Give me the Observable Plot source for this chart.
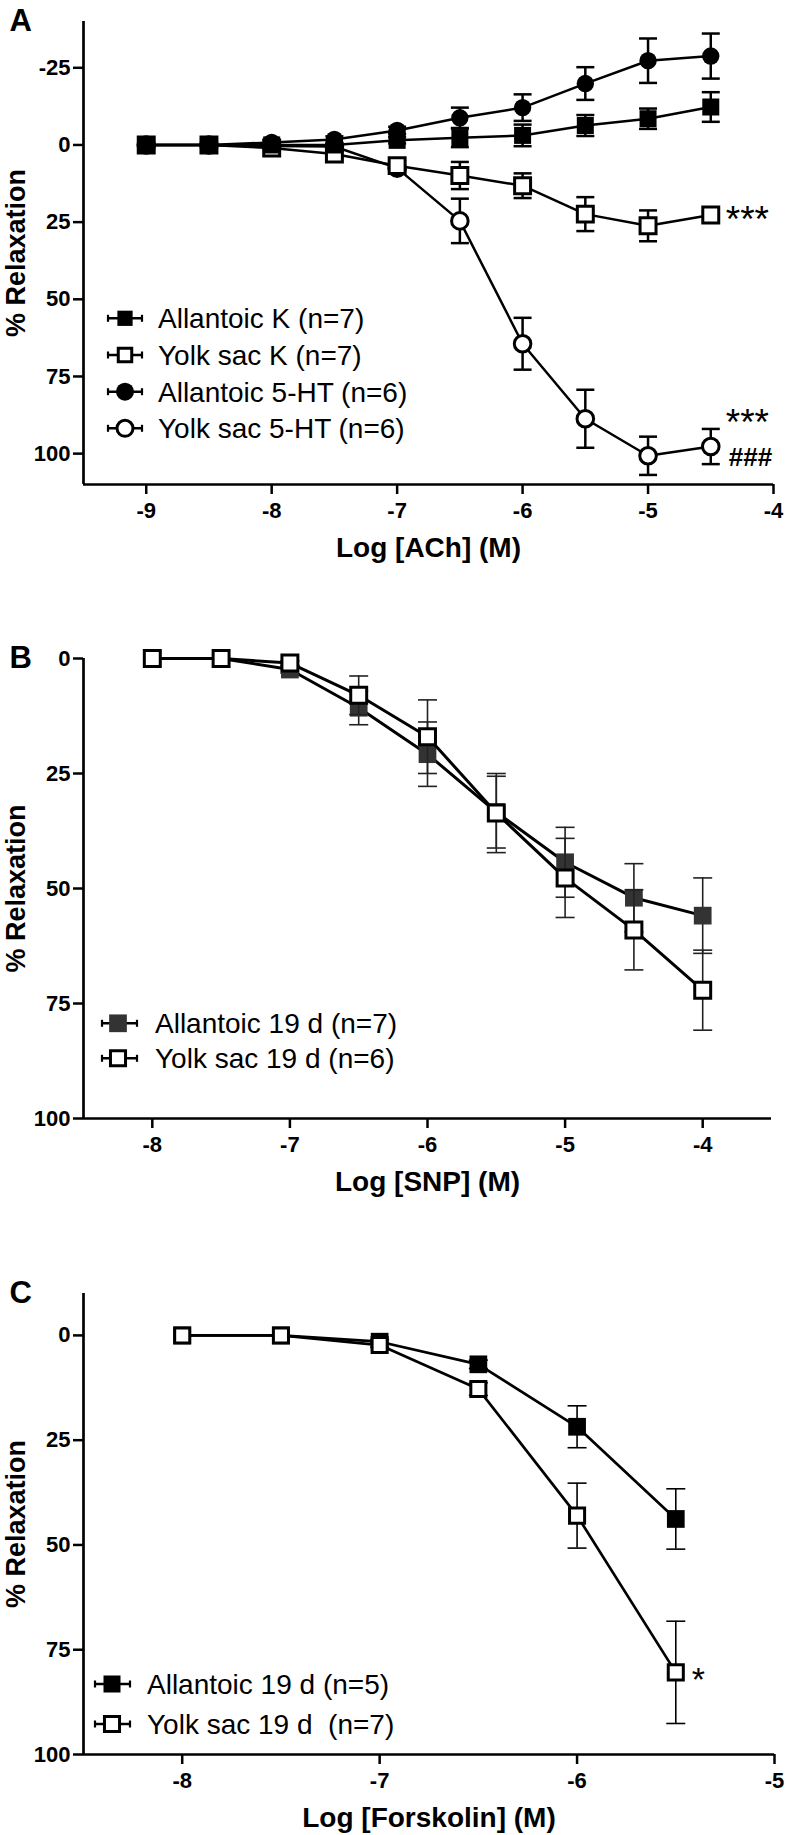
<!DOCTYPE html>
<html><head><meta charset="utf-8">
<script src="https://cdn.jsdelivr.net/npm/d3@7"></script>
<script src="https://cdn.jsdelivr.net/npm/@observablehq/plot@0.6"></script>
<style>
body{margin:0;background:#fff;}
#chart{width:786px;}
#chart svg{display:block;}
</style></head><body><div id="chart"></div>
<script>
// ---------- Panel A : ACh ----------
const aX = [-9,-8.5,-8,-7.5,-7,-6.5,-6,-5.5,-5,-4.5];
const aAllantoicK      = [0,0,0,0,-1.5,-2.3,-3.1,-6.3,-8.5,-12.3];
const aAllantoicKErr   = [0,0,0,0,1,3,3.5,3.4,3.3,4.8];
const aYolkK           = [0,0,1,2.9,6.7,9.9,13.2,22.4,26.2,22.7];
const aYolkKErr        = [0,0,0,1,1.5,4.4,4,5.5,5,1];
const aAllantoic5HT    = [0,0,-0.8,-1.8,-4.7,-8.8,-12.1,-19.9,-27.3,-28.8];
const aAllantoic5HTErr = [0,0,0,1,1.2,3.3,4.3,5.3,7.2,7.3];
const aYolk5HT         = [0,0,0.3,0.5,7.5,24.6,64.4,88.7,100.7,97.7];
const aYolk5HTErr      = [0,0,0,0,1,7.2,8.4,9.4,6.2,5.7];
const aLabels = ["Allantoic K (n=7)","Yolk sac K (n=7)","Allantoic 5-HT (n=6)","Yolk sac 5-HT (n=6)"];
const aXTicks = [-9,-8,-7,-6,-5,-4];
const aYTicks = [-25,0,25,50,75,100];

// ---------- Panel B : SNP ----------
const bX = [-8,-7.5,-7,-6.5,-6,-5.5,-5,-4.5,-4];
const bAllantoic    = [0,0,2.4,10.7,20.8,33.4,44.3,52,55.9];
const bAllantoicErr = [0,0,0.8,3.7,7,7.8,7.6,7.4,8.2];
const bYolk         = [0,0,1,8,17,33.6,47.7,59,72.1];
const bYolkErr      = [0,0,0.5,4.2,8,8.6,8.6,8.7,8.7];
const bLabels = ["Allantoic 19 d (n=7)","Yolk sac 19 d (n=6)"];
const bXTicks = [-8,-7,-6,-5,-4];
const bYTicks = [0,25,50,75,100];

// ---------- Panel C : Forskolin ----------
const cX = [-8,-7.5,-7,-6.5,-6,-5.5];
const cAllantoic    = [0,0,1.5,6.9,21.8,43.8];
const cAllantoicErr = [0,0,0.5,1,5,7.2];
const cYolk         = [0,0,2.3,12.8,43,80.4];
const cYolkErr      = [0,0,0.5,1.5,7.75,12.2];
const cLabels = ["Allantoic 19 d (n=5)","Yolk sac 19 d  (n=7)"];
const cXTicks = [-8,-7,-6,-5];
const cYTicks = [0,25,50,75,100];

const FONT = "'Liberation Sans', Arial, Helvetica, sans-serif";
const capSymbol = {draw(ctx, size){ const w = Math.sqrt(size/Math.PI); ctx.moveTo(-w,0); ctx.lineTo(w,0); }};

function rowsOf(xs, ys, es){ return xs.map((x,i)=>({x, y: ys[i], e: es[i]})); }

function seriesMarks(s){
  const rows = rowsOf(s.x, s.y, s.err);
  const eb = rows.filter(d => d.e > 0);
  const caps = eb.flatMap(d => [{x:d.x, y:d.y-d.e}, {x:d.x, y:d.y+d.e}]);
  return [
    Plot.ruleX(eb, {x:"x", y1:d=>d.y-d.e, y2:d=>d.y+d.e, stroke:s.ebColor, strokeWidth:s.ebWidth}),
    Plot.dot(caps, {x:"x", y:"y", symbol:capSymbol, r:s.capR, stroke:s.ebColor, strokeWidth:s.ebWidth, fill:"none"}),
    Plot.line(rows, {x:"x", y:"y", stroke:"black", strokeWidth:s.lineWidth}),
    Plot.dot(rows, {x:"x", y:"y", symbol:s.symbol, r:s.r, fill:s.fill, stroke:s.stroke, strokeWidth:s.strokeWidth})
  ];
}

function panel(cfg){
  const marks = [
    ...cfg.series.flatMap(seriesMarks),
    Plot.ruleX([cfg.xDomain[0]], {stroke:"black", strokeWidth:2.7}),
    Plot.ruleY([cfg.yDomain[1]], {stroke:"black", strokeWidth:2.7}),
    Plot.axisX({ticks:cfg.xTicks, tickFormat:d=>String(d), tickSize:10, tickPadding:8, fontSize:22, fontWeight:"bold", strokeWidth:2.5, label:null}),
    Plot.axisY({ticks:cfg.yTicks, tickFormat:d=>String(d), tickSize:10, tickPadding:3, fontSize:22, fontWeight:"bold", strokeWidth:2.5, label:null}),
    Plot.text([cfg.letter], {text:d=>d, frameAnchor:"top-left", dx:-74, dy:0, textAnchor:"start", lineAnchor:"middle", fontSize:31, fontWeight:"bold"}),
    Plot.text(["% Relaxation"], {text:d=>d, frameAnchor:"left", rotate:-90, dx:-67, textAnchor:"middle", lineAnchor:"middle", fontSize:27, fontWeight:"bold"}),
    Plot.text([cfg.xLabel], {text:d=>d, frameAnchor:"bottom", dy:64, textAnchor:"middle", lineAnchor:"middle", fontSize:28, fontWeight:"bold"}),
    ...cfg.notes.map(n => Plot.text([n], {x:"x", y:"y", text:"t", dx:n.dx, dy:n.dy, textAnchor:"start", lineAnchor:"middle", fontSize:n.fs, fontWeight:n.fw}))
  ];
  const svg = Plot.plot({
    width:786, height:cfg.height,
    marginTop:cfg.mt, marginBottom:cfg.mb, marginLeft:83, marginRight:cfg.mr,
    x:{domain:cfg.xDomain},
    y:{domain:cfg.yDomain, reverse:true},
    style:{fontFamily:FONT, background:"white", color:"black", overflow:"visible"},
    marks
  });
  // legend (inside the frame)
  const g = d3.select(svg).append("g").attr("aria-label","legend");
  const L = cfg.legend;
  cfg.series.forEach((s,i) => {
    const y = L.ys[i];
    const row = g.append("g");
    row.append("line").attr("x1",L.x0).attr("x2",L.x1).attr("y1",y).attr("y2",y).attr("stroke","black").attr("stroke-width",2.6);
    [L.x0, L.x1].forEach(x => row.append("line").attr("x1",x).attr("x2",x).attr("y1",y-3.5).attr("y2",y+3.5).attr("stroke","black").attr("stroke-width",2.2));
    const sym = s.symbol === "circle" ? d3.symbolCircle : d3.symbolSquare;
    const r = s.legendR;
    row.append("path").attr("d", d3.symbol(sym, Math.PI*r*r)()).attr("transform",`translate(${L.cx},${y})`)
      .attr("fill", s.fill).attr("stroke", s.stroke || "none").attr("stroke-width", s.strokeWidth || 0);
    row.append("text").attr("x", L.tx).attr("y", y).attr("dy","0.36em").attr("font-size",28).attr("font-family",FONT)
      .attr("text-anchor","start").attr("font-weight","normal").attr("fill","black")
      .style("white-space","pre").attr("xml:space","preserve").text(s.label);
  });
  return svg;
}

const filled = (fill, r, lr) => ({fill, stroke:null, strokeWidth:0, r, legendR:lr});
const open = (r, lr) => ({fill:"white", stroke:"black", strokeWidth:3, r, legendR:lr});

const A = panel({
  letter:"A", xLabel:"Log [ACh] (M)", height:575, mt:21, mb:91, mr:13,
  xDomain:[-9.5,-4], yDomain:[-40,110], xTicks:aXTicks, yTicks:aYTicks,
  series:[
    {x:aX, y:aYolk5HT, err:aYolk5HTErr, symbol:"circle", ...open(8.3,8), label:aLabels[3], ebColor:"black", ebWidth:2.5, capR:9, lineWidth:2.5},
    {x:aX, y:aYolkK, err:aYolkKErr, symbol:"square", ...open(9,7.6), label:aLabels[1], ebColor:"black", ebWidth:2.5, capR:9, lineWidth:2.5},
    {x:aX, y:aAllantoic5HT, err:aAllantoic5HTErr, symbol:"circle", ...filled("black",8.7,9), label:aLabels[2], ebColor:"black", ebWidth:2.5, capR:9, lineWidth:2.5},
    {x:aX, y:aAllantoicK, err:aAllantoicKErr, symbol:"square", ...filled("black",9.6,8.6), label:aLabels[0], ebColor:"black", ebWidth:2.5, capR:9, lineWidth:2.5}
  ],
  notes:[
    {x:aX[9], y:aYolkK[9], t:"***", dx:15, dy:5, fs:37, fw:"normal"},
    {x:aX[9], y:aYolk5HT[9], t:"***", dx:15, dy:-23, fs:37, fw:"normal"},
    {x:aX[9], y:aYolk5HT[9], t:"###", dx:18, dy:11, fs:26, fw:"bold"}
  ],
  legend:{x0:108, x1:142, cx:125, tx:158, ys:[428.3,355,391.7,318.3]}
});

const B = panel({
  letter:"B", xLabel:"Log [SNP] (M)", height:655, mt:83, mb:112, mr:15,
  xDomain:[-8.5,-3.5], yDomain:[0,100], xTicks:bXTicks, yTicks:bYTicks,
  series:[
    {x:bX, y:bAllantoic, err:bAllantoicErr, symbol:"square", ...filled("#333",10,10), label:bLabels[0], ebColor:"#222", ebWidth:1.6, capR:9.5, lineWidth:3},
    {x:bX, y:bYolk, err:bYolkErr, symbol:"square", ...open(9,8.5), label:bLabels[1], ebColor:"#222", ebWidth:1.6, capR:9.5, lineWidth:3}
  ],
  notes:[],
  legend:{x0:102, x1:137, cx:118, tx:155, ys:[448.3,483.3]}
});

const C = panel({
  letter:"C", xLabel:"Log [Forskolin] (M)", height:605, mt:63, mb:81, mr:12,
  xDomain:[-8.5,-5], yDomain:[-10,100], xTicks:cXTicks, yTicks:cYTicks,
  series:[
    {x:cX, y:cAllantoic, err:cAllantoicErr, symbol:"square", ...filled("black",10,9.6), label:cLabels[0], ebColor:"black", ebWidth:1.6, capR:9.5, lineWidth:2.7},
    {x:cX, y:cYolk, err:cYolkErr, symbol:"square", ...open(8.5,8.5), label:cLabels[1], ebColor:"black", ebWidth:1.6, capR:9.5, lineWidth:2.7}
  ],
  notes:[
    {x:cX[5], y:cYolk[5], t:"*", dx:16, dy:8, fs:34, fw:"normal"}
  ],
  legend:{x0:95, x1:130, cx:112, tx:147, ys:[454,494]}
});

const root = document.getElementById("chart");
root.append(A, B, C);
</script>
</body></html>
